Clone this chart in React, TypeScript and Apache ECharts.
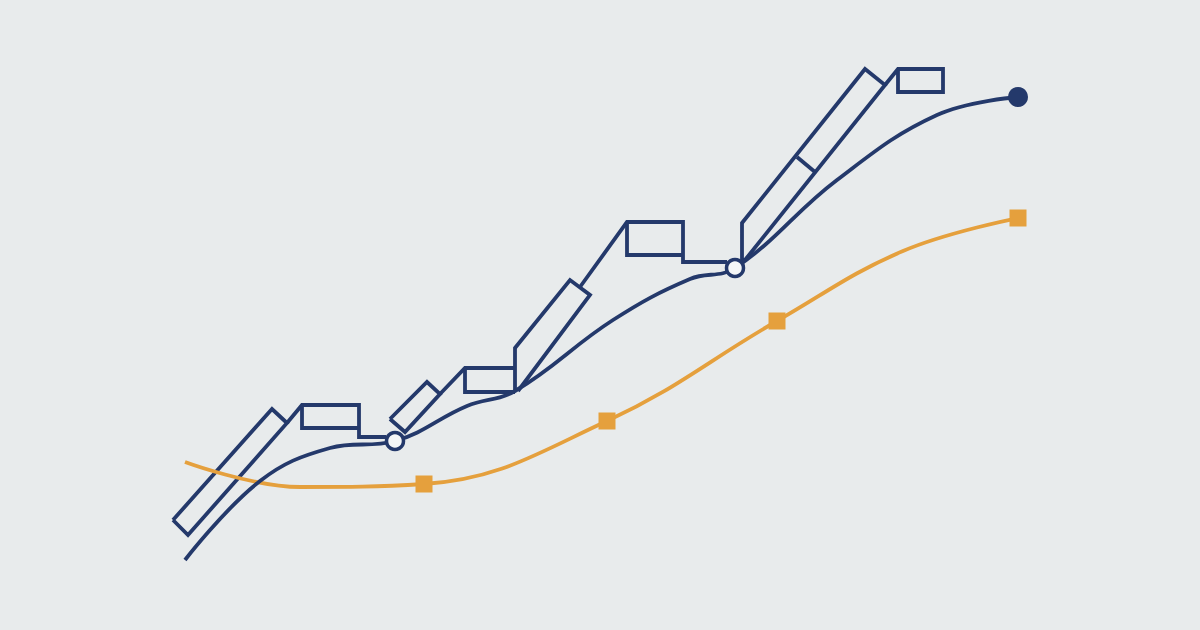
import React, { useEffect, useRef } from "react";
import * as echarts from "echarts";

const navyCurve: [number, number][] = [
  [185, 560], [260, 481], [330, 448], [395, 441], [467, 406], [515, 391],
  [613, 320], [690, 279], [735, 268], [837, 180], [937, 115], [1018, 97],
];
const navyMarkers: { x: number; y: number; kind: "hollow" | "filled" }[] = [
  { x: 395, y: 441, kind: "hollow" },
  { x: 735, y: 268, kind: "hollow" },
  { x: 1018, y: 97, kind: "filled" },
];

const orangeCurve: [number, number][] = [
  [185, 462], [300, 487], [424, 484], [607, 421], [777, 321], [903, 251],
  [1018, 218],
];
const orangeMarkers: [number, number][] = [
  [424, 484], [607, 421], [777, 321], [1018, 218],
];

// Staircase outline, as separate polylines
const stairs: [number, number][][] = [
  [[173, 520], [272, 409], [287, 423], [188, 535], [173, 520]],
  [[287, 423], [302, 405], [359, 405], [359, 437], [386, 437]],
  [[302, 405], [302, 428], [359, 428]],
  [[390, 419], [427, 382], [440, 394], [405, 432], [390, 419]],
  [[440, 394], [465, 368], [515, 368]],
  [[465, 368], [465, 392], [515, 392]],
  [[515, 392], [515, 348], [570, 280], [590, 295], [518, 391]],
  [[580, 287], [627, 222], [683, 222], [683, 262], [727, 262]],
  [[627, 222], [627, 255], [683, 255]],
  [[742, 262], [742, 223], [865, 69], [885, 85], [745, 260]],
  [[797, 157], [815, 172]],
  [[885, 85], [898, 69], [943, 69], [943, 92], [898, 92], [898, 69]],
];

const NAVY = "#24396b";
const ORANGE = "#e5a03d";
const BG = "#e8ebec";

export default function App() {
  const ref = useRef<HTMLDivElement>(null);
  useEffect(() => {
    if (!ref.current) return;
    const chart = echarts.init(ref.current, undefined, { renderer: "svg" });
    const stairSeries = stairs.map((pts) => ({
      type: "line" as const,
      data: pts,
      symbol: "none",
      smooth: false,
      z: 2,
      lineStyle: { color: NAVY, width: 3.8, cap: "butt", join: "miter" },
    }));
    chart.setOption({
      animation: false,
      backgroundColor: BG,
      grid: { left: 0, right: 0, top: 0, bottom: 0 },
      xAxis: { type: "value", min: 0, max: 1200, show: false },
      yAxis: { type: "value", min: 0, max: 630, inverse: true, show: false },
      series: [
        ...stairSeries,
        {
          type: "line",
          data: orangeCurve,
          smooth: 0.4,
          symbol: "none",
          z: 3,
          lineStyle: { color: ORANGE, width: 3.8 },
        },
        {
          type: "line",
          data: navyCurve,
          smooth: 0.4,
          symbol: "none",
          z: 4,
          lineStyle: { color: NAVY, width: 3.8 },
        },
        {
          type: "scatter",
          data: orangeMarkers,
          symbol: "rect",
          symbolSize: 17,
          z: 5,
          itemStyle: { color: ORANGE, opacity: 1 },
        },
        {
          type: "scatter",
          z: 6,
          data: navyMarkers.map((m) => ({
            value: [m.x, m.y],
            symbolSize: m.kind === "filled" ? 20 : 17,
            itemStyle:
              m.kind === "filled"
                ? { color: NAVY, opacity: 1 }
                : { color: "#f4f6f7", borderColor: NAVY, borderWidth: 3.5, opacity: 1 },
          })),
          symbol: "circle",
        },
      ],
    });
    return () => chart.dispose();
  }, []);
  return (
    <div
      ref={ref}
      style={{ position: "fixed", left: 0, top: 0, width: 1200, height: 630 }}
    />
  );
}
